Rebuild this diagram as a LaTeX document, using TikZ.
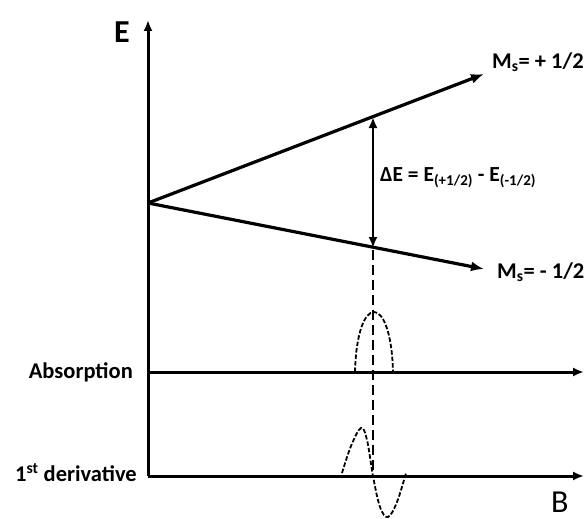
\documentclass[tikz,border=0pt]{standalone}
\usepackage{fontspec}
\setmainfont{Carlito}
\usetikzlibrary{arrows.meta}
\begin{document}
\begin{tikzpicture}[x=1pt,y=-1pt,
  axis/.style={line width=3pt,-{Latex[length=11pt,width=9pt]}},
  level/.style={line width=3.2pt,-{Latex[length=13pt,width=10pt]}},
  gap/.style={line width=2.4pt,{Latex[length=11pt,width=9pt]}-{Latex[length=11pt,width=9pt]}},
  guide/.style={line width=2.4pt,dash pattern=on 10pt off 5pt},
  signal/.style={line width=1.8pt,dash pattern=on 4.5pt off 2pt},
  lbl/.style={font=\fontsize{22.5}{24}\selectfont\bfseries,inner sep=0pt},
  mlbl/.style={font=\fontsize{22.5}{24}\selectfont\bfseries,inner sep=0pt},
  big/.style={font=\fontsize{32}{34}\selectfont,inner sep=0pt}]
\useasboundingbox (0,0) rectangle (586,519);
% key points
\coordinate (top) at (148,20);
\coordinate (O) at (148,203);
\coordinate (bot) at (148,476);
\coordinate (absL) at (148,372);
\coordinate (absR) at (584,372);
\coordinate (derR) at (584,476);
\coordinate (upEnd) at (484,74);
\coordinate (loEnd) at (484,269);
\coordinate (gapTop) at (373,117);
\coordinate (gapBot) at (373,248);
\coordinate (guideTop) at (373,250);
\coordinate (guideBot) at (373,478);
% axes
\draw[axis] (bot) -- (top);
\draw[axis] (absL) -- (absR);
\draw[axis] (bot) -- (derR);
% energy levels
\draw[level] (O) -- (upEnd);
\draw[level] (O) -- (loEnd);
\draw[gap] (gapBot) -- (gapTop);
\draw[guide] (guideTop) -- (guideBot);
% absorption line
\draw[signal] (355,372) .. controls (357,292) and (391,292) .. (393,372);
% first derivative
\draw[signal] plot[smooth,tension=0.6] coordinates {(342,473) (351,446) (361,428) (367,440) (373,476) (380,507) (388,517) (397,502) (406,473)};
% labels
\node[big,font=\fontsize{32}{34}\selectfont\bfseries,anchor=base west] (Elbl) at (114,43) {E};
\node[big,anchor=base west] (Blbl) at (551,512) {B};
\node[lbl,anchor=base east] (abs) at (133,378) {Absorption};
\node[lbl,anchor=base east] (der) at (137,481) {1\textsuperscript{st} derivative};
\node[mlbl,anchor=base west] (mp) at (492,68) {M\textsubscript{s}= + 1/2};
\node[mlbl,anchor=base west] (mm) at (497,278) {M\textsubscript{s}= - 1/2};
\node[font=\fontsize{21.5}{23}\selectfont\bfseries,inner sep=0pt,anchor=base west] (dE) at (380,181) {ΔE = E\textsubscript{(+1/2)} - E\textsubscript{(-1/2)}};
\end{tikzpicture}
\end{document}
